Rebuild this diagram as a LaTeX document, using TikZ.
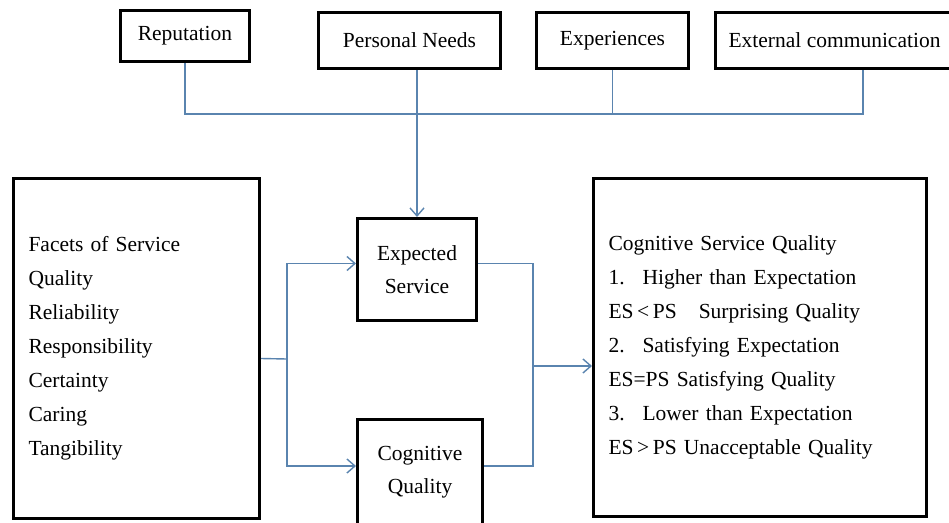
\documentclass[tikz,border=0pt]{standalone}
\usepackage{fontspec}
\setmainfont{Liberation Serif}
\usetikzlibrary{calc, arrows.meta}
\definecolor{lnkblue}{RGB}{90,132,175}

\begin{document}
\begin{tikzpicture}[x=1pt, y=-1pt,
  box/.style={draw, line width=3pt, inner sep=0pt, align=center, font={\fontsize{21.5}{33}\selectfont}},
  list/.style={box, inner xsep=15pt, align=left, font={\fontsize{21.5}{34}\selectfont}},
  lnk/.style={draw=lnkblue, line width=1.4pt},
  arr/.style={lnk, -{Straight Barb[length=8pt, width=14pt]}}]
\useasboundingbox (0,0) rectangle (949,522);
% influences on the expectation
\node[box, minimum width=129pt, minimum height=51pt] (rep) at (185,36) {Reputation};
\node[box, minimum width=182pt, minimum height=56pt] (pn) at (409.5,40.5) {Personal Needs};
\node[box, minimum width=152pt, minimum height=56pt] (xp) at (612.5,40.5) {Experiences};
\node[box, minimum width=238pt, minimum height=56pt] (ext) at (834.5,40.5) {External communication};
% main row
\node[list, text width=216pt, minimum height=340pt] (facets) at (136.5,348.5) {Facets of Service\\ Quality\\ Reliability\\ Responsibility\\ Certainty\\ Caring\\ Tangibility};
\node[box, minimum width=119pt, minimum height=102pt] (es) at (417,269.5) {Expected\\ Service};
\node[box, minimum width=125pt, minimum height=105pt] (cq) at (420,472) {Cognitive\\ Quality};
\node[list, text width=303pt, minimum height=338pt] (cs) at (760,347.5) {Cognitive Service Quality\\
  \makebox[34pt][l]{1.}Higher than Expectation\\
  ES\,<\,PS\hspace{22pt}Surprising Quality\\
  \makebox[34pt][l]{2.}Satisfying Expectation\\
  ES=PS Satisfying Quality\\
  \makebox[34pt][l]{3.}Lower than Expectation\\
  ES\,>\,PS Unacceptable Quality};
\coordinate (bus) at (863,114);
\coordinate (split) at (287,359);
\coordinate (merge) at (533,366);
\draw[lnk] (rep.south) |- (bus) -- (bus |- ext.south);
\draw[lnk] (xp.south) -- (xp.south |- bus);
\draw[arr] (es.north |- pn.south) -- (es.north);
\draw[lnk] ([yshift=-10pt]facets.east) -- (split);
\draw[arr] (split) |- ([yshift=6pt]es.west);
\draw[arr] (split) |- ([yshift=6pt]cq.west);
\draw[lnk] ([yshift=6pt]es.east) -| (merge) |- ([yshift=6pt]cq.east);
\draw[arr] (merge) -- (merge -| cs.west);
\end{tikzpicture}
\end{document}
